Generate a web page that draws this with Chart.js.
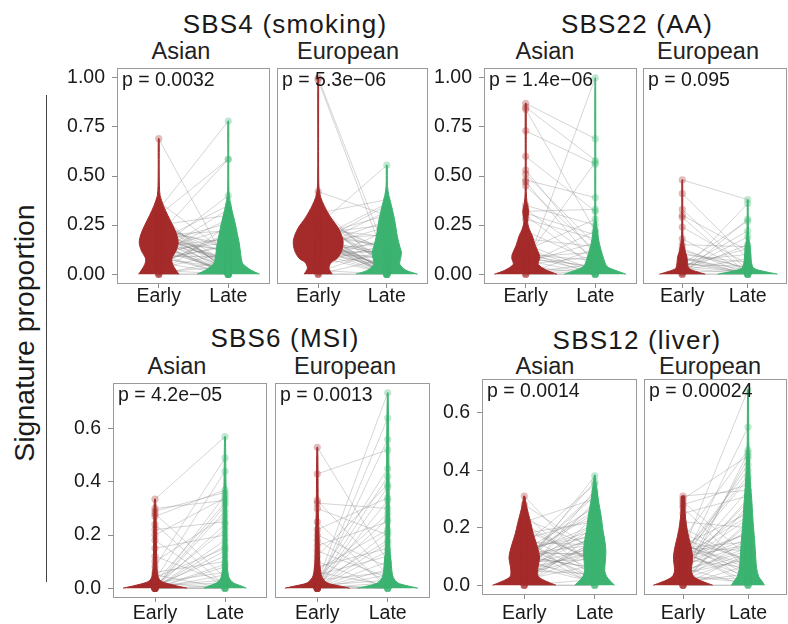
<!DOCTYPE html>
<html>
<head>
<meta charset="utf-8">
<title>Signature proportion, early vs late</title>
<script src="https://cdn.jsdelivr.net/npm/chart.js@4.4.0/dist/chart.umd.min.js"></script>
<style>
  body { margin: 0; background: #fff; }
  #wrap { position: relative; width: 788px; height: 624px; overflow: hidden;
          font-family: "Liberation Sans", Arial, sans-serif; color: #1a1a1a; }
  .t { position: absolute; width: 260px; text-align: center; white-space: nowrap; line-height: 1; }
  .sig { font-size: 26px; letter-spacing: 1.2px; }
  .pop { font-size: 23.5px; color: #222; }
  #ylab { position: absolute; left: -126px; top: 319px; width: 300px; font-size: 28.4px; line-height: 28px;
          text-align: center; transform: rotate(-90deg); white-space: nowrap; }
  #yline { position: absolute; left: 46px; top: 95px; width: 1px; height: 487px; background: #444; }
  canvas { position: absolute; }
</style>
</head>
<body>
<div id="wrap">
  <div id="ylab">Signature proportion</div>
  <div id="yline"></div>
</div>
<script>
// labels
const categories = ['Early', 'Late'];
const populations = ['Asian', 'European'];
const signatures = ['SBS4 (smoking)', 'SBS22 (AA)', 'SBS6 (MSI)', 'SBS12 (liver)'];
const pValues = ['0.0032', '5.3e\u221206', '1.4e\u221206', '0.095', '4.2e\u221205', '0.0013', '0.0014', '0.00024'];

const topTicks = [0, 0.25, 0.5, 0.75, 1];
const topTickLabels = ['0.00', '0.25', '0.50', '0.75', '1.00'];
const bottomTicks = [0, 0.2, 0.4, 0.6];
const bottomTickLabels = ['0.0', '0.2', '0.4', '0.6'];

// paired samples (early[i] <-> late[i])
const sbs4AsEarly = [0.69, 0.37, 0.33, 0.30, 0.28, 0.26, 0.25, 0.24, 0.22, 0.21, 0.20, 0.19, 0.18, 0.18, 0.17, 0.16, 0.16, 0.15, 0.14, 0.13,
                     0.12, 0.11, 0.10, 0.09, 0.08, 0.06, 0.05, 0.03, 0.02, 0.01, 0.00, 0.00, 0.00, 0.00, 0.20, 0.15, 0.31, 0.23, 0.12, 0.27,
                     0.19, 0.17, 0.14, 0.22, 0.10, 0.08, 0.25, 0.16, 0.13, 0.21, 0.18, 0.07, 0.29, 0.11, 0.15, 0.24, 0.05, 0.20, 0.09, 0.17];
const sbs4AsLate  = [0.04, 0.10, 0.78, 0.585, 0.05, 0.02, 0.30, 0.01, 0.15, 0.00, 0.22, 0.06, 0.00, 0.12, 0.03, 0.26, 0.08, 0.00, 0.18, 0.40,
                     0.02, 0.33, 0.00, 0.09, 0.14, 0.00, 0.20, 0.11, 0.00, 0.04, 0.00, 0.07, 0.25, 0.00, 0.585, 0.01, 0.00, 0.05, 0.16, 0.02,
                     0.02, 0.12, 0.00, 0.06, 0.19, 0.03, 0.10, 0.00, 0.23, 0.04, 0.08, 0.15, 0.01, 0.28, 0.00, 0.13, 0.21, 0.05, 0.00, 0.35];

const sbs4EuEarly = [1.00, 0.99, 0.42, 0.35, 0.31, 0.29, 0.27, 0.25, 0.24, 0.22, 0.21, 0.20, 0.19, 0.18, 0.18, 0.17, 0.17, 0.16, 0.15, 0.14,
                     0.13, 0.12, 0.11, 0.10, 0.09, 0.07, 0.05, 0.02, 0.01, 0.00, 0.00, 0.00, 0.22, 0.15, 0.19, 0.26, 0.13, 0.08, 0.20, 0.16,
                     0.18, 0.21, 0.16, 0.14, 0.25, 0.12, 0.19, 0.23, 0.10, 0.17, 0.28, 0.15, 0.20, 0.13, 0.06, 0.24, 0.11, 0.18, 0.32, 0.16];
const sbs4EuLate  = [0.10, 0.05, 0.30, 0.02, 0.38, 0.00, 0.12, 0.555, 0.06, 0.01, 0.25, 0.14, 0.00, 0.09, 0.20, 0.03, 0.11, 0.00, 0.32, 0.07,
                     0.00, 0.16, 0.04, 0.12, 0.00, 0.22, 0.10, 0.00, 0.13, 0.00, 0.00, 0.08, 0.01, 0.27, 0.00, 0.11, 0.05, 0.18, 0.02, 0.35,
                     0.03, 0.14, 0.00, 0.24, 0.06, 0.11, 0.01, 0.19, 0.09, 0.00, 0.12, 0.04, 0.30, 0.02, 0.15, 0.08, 0.00, 0.36, 0.05, 0.10];

const sbs22AsEarly = [0.87, 0.85, 0.84, 0.73, 0.60, 0.53, 0.51, 0.48, 0.47, 0.45, 0.35, 0.33, 0.32, 0.31, 0.30, 0.28, 0.22, 0.18, 0.15, 0.12,
                      0.11, 0.10, 0.09, 0.09, 0.08, 0.07, 0.06, 0.05, 0.04, 0.03, 0.02, 0.01, 0.00, 0.00, 0.00, 0.13, 0.08, 0.10, 0.05, 0.02];
const sbs22AsLate  = [0.69, 0.58, 0.22, 0.56, 0.32, 0.10, 0.15, 0.39, 0.05, 0.12, 0.25, 0.08, 0.33, 0.20, 0.03, 0.18, 0.06, 0.14, 0.02, 0.28,
                      0.00, 0.07, 0.11, 0.01, 0.04, 0.00, 0.16, 0.09, 0.00, 1.00, 0.02, 0.05, 0.00, 0.00, 0.13, 0.01, 0.57, 0.03, 0.22, 0.00];

const sbs22EuEarly = [0.48, 0.41, 0.33, 0.30, 0.29, 0.24, 0.18, 0.15, 0.13, 0.11, 0.10, 0.09, 0.08, 0.07, 0.06, 0.05,
                      0.05, 0.04, 0.03, 0.03, 0.02, 0.02, 0.01, 0.01, 0.00, 0.00, 0.00, 0.06, 0.08, 0.04, 0.12, 0.02];
const sbs22EuLate  = [0.38, 0.08, 0.02, 0.12, 0.00, 0.05, 0.01, 0.14, 0.00, 0.03, 0.06, 0.00, 0.02, 0.10, 0.00, 0.27,
                      0.04, 0.01, 0.22, 0.00, 0.15, 0.08, 0.36, 0.02, 0.00, 0.28, 0.00, 0.01, 0.00, 0.13, 0.03, 0.19];

const sbs6AsEarly = [0.335, 0.30, 0.29, 0.28, 0.27, 0.24, 0.22, 0.20, 0.18, 0.15, 0.12, 0.10, 0.08, 0.06, 0.05, 0.04, 0.03, 0.02, 0.02,
                     0.01, 0.01, 0.01, 0.00, 0.00, 0.00, 0.00, 0.00, 0.00, 0.00, 0.00, 0.00, 0.00, 0.00, 0.02, 0.00, 0.01, 0.00, 0.00];
const sbs6AsLate  = [0.57, 0.33, 0.36, 0.04, 0.37, 0.01, 0.25, 0.34, 0.00, 0.20, 0.02, 0.27, 0.49, 0.10, 0.00, 0.15, 0.44, 0.06, 0.32,
                     0.22, 0.03, 0.12, 0.18, 0.08, 0.29, 0.05, 0.14, 0.01, 0.35, 0.24, 0.00, 0.00, 0.09, 0.00, 0.16, 0.02, 0.31, 0.00];

const sbs6EuEarly = [0.53, 0.43, 0.33, 0.32, 0.30, 0.25, 0.22, 0.20, 0.18, 0.16, 0.14, 0.12, 0.10, 0.08, 0.07, 0.06, 0.05, 0.04, 0.03, 0.02,
                     0.02, 0.01, 0.01, 0.01, 0.00, 0.00, 0.00, 0.00, 0.00, 0.00, 0.00, 0.00, 0.00, 0.00, 0.02, 0.01, 0.00, 0.03, 0.00, 0.00];
const sbs6EuLate  = [0.10, 0.52, 0.05, 0.30, 0.20, 0.00, 0.34, 0.08, 0.02, 0.25, 0.04, 0.39, 0.00, 0.15, 0.22, 0.01, 0.12, 0.28, 0.06, 0.735,
                     0.18, 0.00, 0.42, 0.03, 0.64, 0.56, 0.10, 0.33, 0.38, 0.07, 0.00, 0.21, 0.14, 0.02, 0.26, 0.00, 0.17, 0.45, 0.05, 0.00];

const sbs12AsEarly = [0.31, 0.28, 0.25, 0.22, 0.20, 0.18, 0.16, 0.15, 0.14, 0.13, 0.12, 0.11, 0.10, 0.10, 0.09, 0.09, 0.08, 0.08, 0.07, 0.06,
                      0.05, 0.05, 0.04, 0.03, 0.02, 0.02, 0.01, 0.01, 0.00, 0.00, 0.00, 0.00, 0.12, 0.07, 0.19, 0.11, 0.03, 0.09, 0.15, 0.06,
                      0.10, 0.08, 0.13, 0.05, 0.17, 0.09, 0.12, 0.07, 0.21, 0.11, 0.04, 0.14, 0.09, 0.06, 0.16, 0.10, 0.23, 0.08, 0.13, 0.03];
const sbs12AsLate  = [0.05, 0.12, 0.02, 0.30, 0.08, 0.22, 0.00, 0.14, 0.35, 0.03, 0.19, 0.11, 0.06, 0.25, 0.01, 0.16, 0.28, 0.09, 0.13, 0.38,
                      0.04, 0.20, 0.10, 0.33, 0.07, 0.15, 0.24, 0.12, 0.00, 0.00, 0.18, 0.02, 0.27, 0.01, 0.09, 0.21, 0.14, 0.31, 0.04, 0.17,
                      0.26, 0.03, 0.17, 0.12, 0.05, 0.32, 0.10, 0.21, 0.08, 0.14, 0.29, 0.02, 0.18, 0.11, 0.23, 0.06, 0.13, 0.36, 0.00, 0.15];

const sbs12EuEarly = [0.31, 0.30, 0.29, 0.28, 0.27, 0.22, 0.18, 0.16, 0.15, 0.14, 0.13, 0.12, 0.11, 0.10, 0.10, 0.09, 0.08, 0.07, 0.06, 0.05,
                      0.04, 0.04, 0.03, 0.02, 0.02, 0.01, 0.01, 0.00, 0.00, 0.00, 0.00, 0.00, 0.12, 0.08, 0.05, 0.03, 0.10, 0.06, 0.02, 0.14,
                      0.08, 0.11, 0.05, 0.13, 0.09, 0.16, 0.07, 0.12, 0.03, 0.10, 0.14, 0.06, 0.09, 0.17, 0.04, 0.11, 0.20, 0.08, 0.13, 0.25];
const sbs12EuLate  = [0.33, 0.45, 0.10, 0.35, 0.05, 0.20, 0.08, 0.47, 0.02, 0.25, 0.12, 0.68, 0.03, 0.18, 0.37, 0.06, 0.55, 0.14, 0.00, 0.30,
                      0.09, 0.44, 0.01, 0.22, 0.16, 0.46, 0.04, 0.00, 0.11, 0.00, 0.28, 0.07, 0.00, 0.42, 0.13, 0.02, 0.24, 0.19, 0.10, 0.06,
                      0.16, 0.38, 0.12, 0.05, 0.26, 0.09, 0.33, 0.01, 0.21, 0.14, 0.07, 0.29, 0.18, 0.03, 0.11, 0.40, 0.08, 0.23, 0.15, 0.31];

// violin outlines: density half-widths (x units) at proportion levels
const sbs4AsEarlyY = [0, 0.02, 0.05, 0.08, 0.12, 0.16, 0.20, 0.25, 0.30, 0.35, 0.40, 0.45, 0.55, 0.69];
const sbs4AsEarlyW = [0.29, 0.25, 0.20, 0.19, 0.25, 0.28, 0.26, 0.20, 0.13, 0.067, 0.02, 0.01, 0.007, 0.006];
const sbs4AsLateY  = [0, 0.02, 0.04, 0.06, 0.10, 0.16, 0.20, 0.25, 0.30, 0.35, 0.40, 0.45, 0.60, 0.78];
const sbs4AsLateW  = [0.45, 0.33, 0.25, 0.20, 0.18, 0.157, 0.133, 0.105, 0.071, 0.038, 0.014, 0.008, 0.007, 0.006];

const sbs4EuEarlyY = [0, 0.03, 0.06, 0.08, 0.12, 0.17, 0.23, 0.29, 0.35, 0.39, 0.43, 0.50, 0.75, 1.00];
const sbs4EuEarlyW = [0.205, 0.157, 0.19, 0.276, 0.343, 0.362, 0.30, 0.181, 0.086, 0.038, 0.014, 0.007, 0.006, 0.005];
const sbs4EuLateY  = [0, 0.02, 0.05, 0.08, 0.11, 0.14, 0.19, 0.28, 0.35, 0.40, 0.45, 0.555];
const sbs4EuLateW  = [0.45, 0.28, 0.19, 0.20, 0.214, 0.19, 0.155, 0.112, 0.067, 0.03, 0.01, 0.006];

const sbs22AsEarlyY = [0, 0.02, 0.05, 0.08, 0.10, 0.145, 0.195, 0.23, 0.27, 0.32, 0.36, 0.42, 0.60, 0.87];
const sbs22AsEarlyW = [0.45, 0.30, 0.18, 0.20, 0.195, 0.14, 0.095, 0.05, 0.025, 0.04, 0.02, 0.008, 0.007, 0.006];
const sbs22AsLateY  = [0, 0.02, 0.04, 0.08, 0.12, 0.16, 0.20, 0.25, 0.30, 0.60, 1.00];
const sbs22AsLateW  = [0.443, 0.286, 0.167, 0.12, 0.086, 0.057, 0.038, 0.019, 0.009, 0.007, 0.005];

const sbs22EuEarlyY = [0, 0.015, 0.03, 0.06, 0.09, 0.12, 0.16, 0.20, 0.30, 0.48];
const sbs22EuEarlyW = [0.35, 0.20, 0.10, 0.08, 0.07, 0.04, 0.02, 0.01, 0.007, 0.006];
const sbs22EuLateY  = [0, 0.015, 0.03, 0.06, 0.10, 0.15, 0.20, 0.30, 0.38];
const sbs22EuLateW  = [0.457, 0.24, 0.095, 0.057, 0.048, 0.03, 0.014, 0.008, 0.006];

const sbs6AsEarlyY = [0, 0.01, 0.02, 0.03, 0.05, 0.10, 0.20, 0.30, 0.335];
const sbs6AsEarlyW = [0.457, 0.286, 0.143, 0.071, 0.038, 0.024, 0.019, 0.014, 0.006];
const sbs6AsLateY  = [0, 0.01, 0.02, 0.04, 0.08, 0.15, 0.30, 0.40, 0.57];
const sbs6AsLateW  = [0.305, 0.214, 0.12, 0.057, 0.033, 0.029, 0.024, 0.014, 0.006];

const sbs6EuEarlyY = [0, 0.01, 0.02, 0.04, 0.06, 0.10, 0.20, 0.30, 0.53];
const sbs6EuEarlyW = [0.46, 0.286, 0.143, 0.071, 0.048, 0.033, 0.024, 0.014, 0.006];
const sbs6EuLateY  = [0, 0.01, 0.02, 0.04, 0.07, 0.10, 0.15, 0.25, 0.40, 0.735];
const sbs6EuLateW  = [0.43, 0.26, 0.143, 0.08, 0.057, 0.048, 0.029, 0.024, 0.019, 0.006];

const sbs12AsEarlyY = [0, 0.015, 0.03, 0.05, 0.07, 0.095, 0.12, 0.146, 0.18, 0.215, 0.25, 0.28, 0.31];
const sbs12AsEarlyW = [0.45, 0.30, 0.20, 0.19, 0.20, 0.217, 0.20, 0.17, 0.127, 0.094, 0.057, 0.028, 0.006];
const sbs12AsLateY  = [0, 0.015, 0.03, 0.05, 0.08, 0.12, 0.16, 0.19, 0.24, 0.285, 0.33, 0.36, 0.383];
const sbs12AsLateW  = [0.283, 0.22, 0.17, 0.142, 0.15, 0.158, 0.14, 0.118, 0.092, 0.059, 0.033, 0.015, 0.006];

const sbs12EuEarlyY = [0, 0.015, 0.03, 0.05, 0.08, 0.10, 0.13, 0.17, 0.21, 0.25, 0.29, 0.31];
const sbs12EuEarlyW = [0.457, 0.283, 0.165, 0.13, 0.142, 0.146, 0.127, 0.085, 0.052, 0.033, 0.028, 0.02];
const sbs12EuLateY  = [0, 0.015, 0.03, 0.06, 0.10, 0.15, 0.20, 0.25, 0.30, 0.35, 0.40, 0.45, 0.50, 0.68];
const sbs12EuLateW  = [0.255, 0.212, 0.165, 0.132, 0.118, 0.104, 0.085, 0.07, 0.057, 0.038, 0.028, 0.019, 0.012, 0.006];

const earlyColor = '#A52A2A';
const lateColor = '#3CB371';
const earlyDot = 'rgba(165, 42, 42, 0.32)';
const lateDot = 'rgba(60, 179, 113, 0.32)';
const FONT = '"Liberation Sans", Arial, sans-serif';

// one entry per facet; box = [left, top, right, bottom] of the plot frame
const panels = [
  { sig: 0, pop: 0, early: sbs4AsEarly, late: sbs4AsLate, ve: [sbs4AsEarlyY, sbs4AsEarlyW], vl: [sbs4AsLateY, sbs4AsLateW],
    box: [117, 68, 270, 284], range: [-0.05, 1.05], axis: true, xh: 30, pad: -3 },
  { sig: 0, pop: 1, early: sbs4EuEarly, late: sbs4EuLate, ve: [sbs4EuEarlyY, sbs4EuEarlyW], vl: [sbs4EuLateY, sbs4EuLateW],
    box: [277, 68, 428, 284], range: [-0.05, 1.05], axis: false, xh: 30, pad: -3 },
  { sig: 1, pop: 0, early: sbs22AsEarly, late: sbs22AsLate, ve: [sbs22AsEarlyY, sbs22AsEarlyW], vl: [sbs22AsLateY, sbs22AsLateW],
    box: [484, 68, 637, 284], range: [-0.05, 1.05], axis: true, xh: 30, pad: -3 },
  { sig: 1, pop: 1, early: sbs22EuEarly, late: sbs22EuLate, ve: [sbs22EuEarlyY, sbs22EuEarlyW], vl: [sbs22EuLateY, sbs22EuLateW],
    box: [643, 68, 787, 284], range: [-0.05, 1.05], axis: false, xh: 30, pad: -3 },
  { sig: 2, pop: 0, early: sbs6AsEarly, late: sbs6AsLate, ve: [sbs6AsEarlyY, sbs6AsEarlyW], vl: [sbs6AsLateY, sbs6AsLateW],
    box: [113, 383, 267, 598], range: [-0.037, 0.772], axis: true, xh: 26, pad: 0 },
  { sig: 2, pop: 1, early: sbs6EuEarly, late: sbs6EuLate, ve: [sbs6EuEarlyY, sbs6EuEarlyW], vl: [sbs6EuLateY, sbs6EuLateW],
    box: [275, 383, 430, 598], range: [-0.037, 0.772], axis: false, xh: 26, pad: 0 },
  { sig: 3, pop: 0, early: sbs12AsEarly, late: sbs12AsLate, ve: [sbs12AsEarlyY, sbs12AsEarlyW], vl: [sbs12AsLateY, sbs12AsLateW],
    box: [482, 379, 637, 595], range: [-0.034, 0.717], axis: true, xh: 29, pad: 3 },
  { sig: 3, pop: 1, early: sbs12EuEarly, late: sbs12EuLate, ve: [sbs12EuEarlyY, sbs12EuEarlyW], vl: [sbs12EuLateY, sbs12EuLateW],
    box: [644, 379, 787, 595], range: [-0.034, 0.717], axis: false, xh: 29, pad: 3 }
];

// facet headings: [text index, centre x, baseline y]
const sigHeads = [[0, 285, 33], [1, 637, 33], [2, 285, 347], [3, 637, 349]];
const popHeads = [[0, 181, 60], [1, 348, 60], [0, 545, 60], [1, 708, 60],
                  [0, 177, 375], [1, 345, 375], [0, 545, 375], [1, 710, 375]];

const wrap = document.getElementById('wrap');

function addText(cls, text, cx, baseline, size) {
  const d = document.createElement('div');
  d.className = 't ' + cls;
  d.textContent = text;
  d.style.left = (cx - 130) + 'px';
  d.style.top = (baseline - 0.8465 * size) + 'px';
  wrap.appendChild(d);
}
sigHeads.forEach(([i, cx, b]) => addText('sig', signatures[i], cx, b, 26));
popHeads.forEach(([i, cx, b]) => addText('pop', populations[i], cx, b, 23.5));

// closed outline of a violin centred on x = c
function violinOutline(c, ys, ws) {
  const left = ys.map((y, i) => ({ x: c - ws[i], y: y }));
  const right = ys.map((y, i) => ({ x: c + ws[i], y: y })).reverse();
  return left.concat(right);
}

// grey segments joining each early/late pair, broken by null gaps
function pairSegments(early, late) {
  const out = [];
  early.forEach((e, i) => {
    out.push({ x: 1, y: e }, { x: 2, y: late[i] }, { x: 1.5, y: null });
  });
  return out;
}

const framePlugin = {
  id: 'frame',
  afterDatasetsDraw(chart, args, opts) {
    const { ctx, chartArea: a } = chart;
    ctx.save();
    ctx.strokeStyle = '#9a9a9a';
    ctx.lineWidth = 1;
    ctx.strokeRect(a.left + 0.5, a.top + 0.5, a.right - a.left - 1, a.bottom - a.top - 1);
    ctx.fillStyle = '#1a1a1a';
    ctx.font = '19.5px ' + FONT;
    ctx.textBaseline = 'alphabetic';
    ctx.fillText('p = ' + opts.p, a.left + 5, a.top + 18);
    ctx.restore();
  }
};

panels.forEach((p, idx) => {
  const [L, T, R, B] = p.box;
  const axisW = p.axis ? 56 : 0;
  const w = R - L, h = B - T;
  const cv = document.createElement('canvas');
  cv.width = axisW + w + 1;
  cv.height = h + p.xh;
  cv.style.left = (L - axisW) + 'px';
  cv.style.top = T + 'px';
  wrap.appendChild(cv);

  const yTicks = p.sig < 2 ? topTicks : bottomTicks;
  const yLabels = p.sig < 2 ? topTickLabels : bottomTickLabels;

  new Chart(cv.getContext('2d'), {
    type: 'scatter',
    data: {
      datasets: [
        { data: p.early.map(v => ({ x: 1, y: v })), pointRadius: 3.6, pointBackgroundColor: earlyDot,
          pointBorderWidth: 0, order: 1 },
        { data: p.late.map(v => ({ x: 2, y: v })), pointRadius: 3.6, pointBackgroundColor: lateDot,
          pointBorderWidth: 0, order: 1 },
        { data: violinOutline(1, p.ve[0], p.ve[1]), showLine: true, fill: 'shape', tension: 0.3,
          backgroundColor: earlyColor, borderColor: earlyColor, borderWidth: 1, pointRadius: 0, order: 2 },
        { data: violinOutline(2, p.vl[0], p.vl[1]), showLine: true, fill: 'shape', tension: 0.3,
          backgroundColor: lateColor, borderColor: lateColor, borderWidth: 1, pointRadius: 0, order: 2 },
        { data: pairSegments(p.early, p.late), showLine: true, spanGaps: false,
          borderColor: 'rgba(125, 125, 125, 0.36)', borderWidth: 0.9, pointRadius: 0, order: 3 }
      ]
    },
    options: {
      responsive: false,
      animation: false,
      devicePixelRatio: 1,
      layout: { autoPadding: false, padding: { left: 0, right: 1, top: 0, bottom: 0 } },
      plugins: {
        legend: { display: false },
        tooltip: { enabled: false },
        frame: { p: pValues[idx] }
      },
      scales: {
        x: {
          type: 'linear', min: 0.4, max: 2.6,
          afterBuildTicks: s => { s.ticks = [{ value: 1 }, { value: 2 }]; },
          afterFit: s => { s.height = p.xh; s.paddingLeft = 0; s.paddingRight = 0; },
          grid: { display: true, drawOnChartArea: false, drawTicks: true, tickLength: 4, color: '#8c8c8c' },
          border: { display: false },
          ticks: { callback: (v, i) => categories[i], color: '#1a1a1a', font: { size: 19.5, family: FONT },
                   padding: p.pad, maxRotation: 0, autoSkip: false }
        },
        y: {
          display: p.axis,
          min: p.range[0], max: p.range[1],
          afterBuildTicks: s => { s.ticks = yTicks.map(v => ({ value: v })); },
          afterFit: s => { s.width = axisW; s.paddingTop = 0; s.paddingBottom = 0; },
          grid: { display: true, drawOnChartArea: false, drawTicks: true, tickLength: 5, color: '#8c8c8c' },
          border: { display: false },
          ticks: { callback: (v, i) => yLabels[i], color: '#1a1a1a', font: { size: 19.5, family: FONT }, padding: 7 }
        }
      }
    },
    plugins: [framePlugin]
  });
});
</script>
</body>
</html>
